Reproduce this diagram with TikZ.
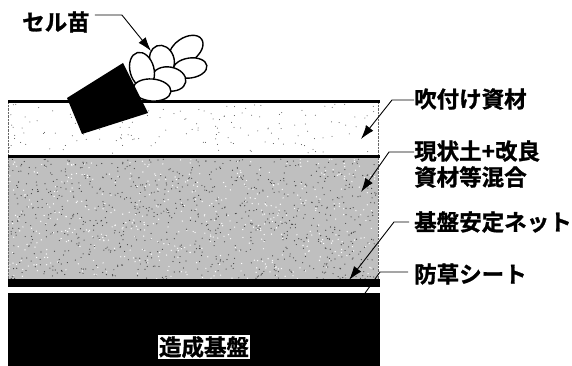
\documentclass[tikz,border=0pt]{standalone}
\usepackage{fontspec}
\newfontfamily\jp{Noto Sans CJK JP}[BoldFont={Noto Sans CJK JP Bold},BoldFeatures={FakeBold=1.2}]
\usetikzlibrary{arrows.meta}

\tikzset{
  lbl/.style={font=\jp\bfseries\fontsize{22.5}{26}\selectfont, inner sep=0pt, align=left, anchor=west},
  leader/.style={line width=0.9pt},
  arr/.style={leader, -{Latex[length=14pt,width=9pt]}},
  petal/.style={draw, fill=white, line width=1.4pt},
  band/.style={line width=3pt}
}

\begin{document}
\begin{tikzpicture}[x=1pt,y=-1pt]
\useasboundingbox (0,0) rectangle (572,366);

% sprayed layer and mixed soil layer
\fill[white] (8,102) rectangle (378,156);
\fill[black!25] (8,158) rectangle (378,280);
\pgfmathsetseed{11}
\foreach \i in {1,...,160}{
  \pgfmathsetmacro\px{9+368*rnd}
  \pgfmathsetmacro\py{104+50*rnd}
  \fill[black!70] (\px,\py) circle (0.5pt);
}
\foreach \i in {1,...,900}{
  \pgfmathsetmacro\px{9+368*rnd}
  \pgfmathsetmacro\py{159+120*rnd}
  \fill[black!75] (\px,\py) circle (0.6pt);
}
\foreach \i in {1,...,500}{
  \pgfmathsetmacro\px{9+368*rnd}
  \pgfmathsetmacro\py{159+120*rnd}
  \fill[white] (\px,\py) circle (0.7pt);
}
\draw[black!60,densely dotted] (8,102) -- (8,280) (378,102) -- (378,280);
\draw[band] (8,101.5) -- (380,101.5);
\draw[band] (8,156.5) -- (380,156.5);

% net, sheet and ground
\fill (8,279) rectangle (380,287);
\fill (8,293) rectangle (380,366);
\node (base) [fill=white, inner sep=1pt, font=\jp\bfseries\fontsize{22.5}{26}\selectfont] at (204,347) {造成基盤};

% seedling
\draw[petal, rotate around={35:(186,50)}] (186,50) ellipse (19 and 12);
\draw[petal, rotate around={8:(190,68)}] (190,68) ellipse (17 and 10);
\draw[petal, rotate around={-70:(162,60)}] (162,60) ellipse (15 and 12);
\draw[petal, rotate around={-10:(169,79)}] (169,79) ellipse (17 and 12);
\draw[petal, rotate around={-75:(142,70)}] (142,70) ellipse (18 and 12);
\draw[petal, rotate around={-5:(152,90)}] (152,90) ellipse (19 and 11);
\fill (67,98) -- (123,63) -- (148,113) -- (82,134) -- cycle;

% labels
\node (cell) [lbl] at (22,22) {セル苗};
\node (spray) [lbl] at (414,99) {吹付け資材};
\node (mix) [lbl] at (414,164) {現状土+改良\\資材等混合};
\node (net) [lbl] at (414,222) {基盤安定ネット};
\node (sheet) [lbl] at (414,274) {防草シート};

\coordinate (cellTip) at (151,51);
\coordinate (sprayTip) at (361,139);
\coordinate (mixTip) at (361,192);
\coordinate (netTip) at (349,280);
\coordinate (sheetEnd) at (363,296);

\draw[arr] (cell.east) ++(5,-7) -- ++(27,0) -- (cellTip);
\draw[arr] (spray.west) ++(0,1) -- ++(-22,0) -- (sprayTip);
\draw[arr] (mix.west) ++(0,-12) -- ++(-25,0) -- (mixTip);
\draw[arr] (net.west) ++(-5,0) -- ++(-15,0) -- (netTip);
\draw[leader] (sheet.west) ++(-6,-2) -- ++(-28,0) -- (sheetEnd);
\end{tikzpicture}
\end{document}
